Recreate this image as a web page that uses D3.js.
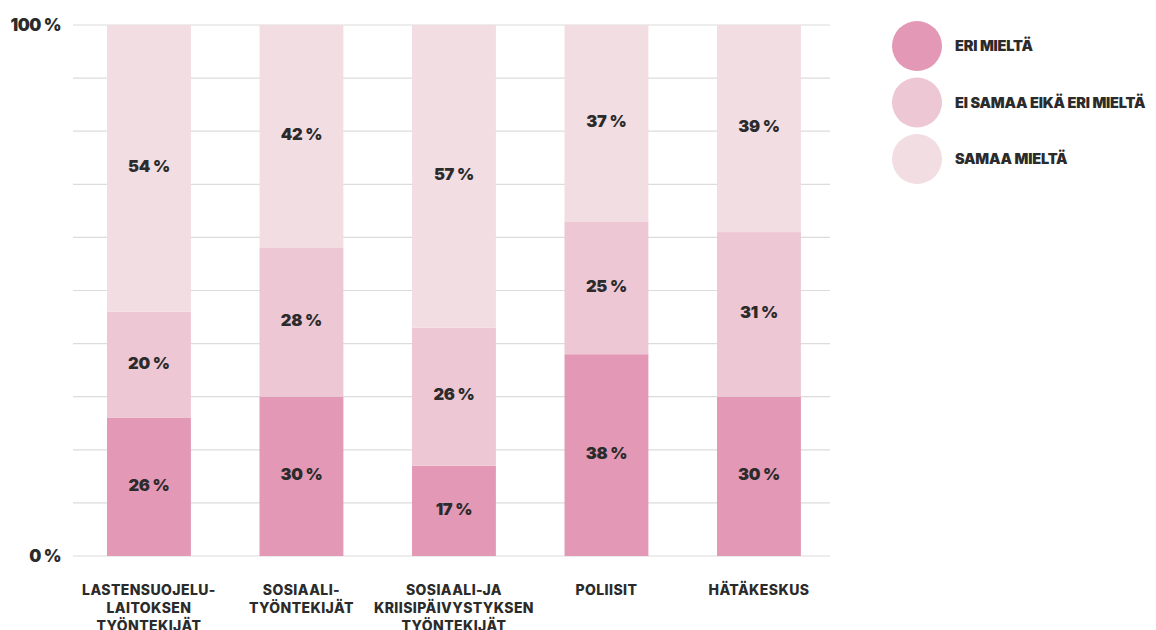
<!DOCTYPE html>
<html><head><meta charset="utf-8">
<script src="https://cdn.jsdelivr.net/npm/d3@7"></script>
<style>
body{margin:0;background:#fff;}
text{font-family:Inter,"Open Sans",sans-serif;fill:#2b2b2b;}
</style></head><body>
<svg id="c" width="1156" height="630"></svg>
<script>
const categories = [
  ["LASTENSUOJELU-","LAITOKSEN","TYÖNTEKIJÄT"],
  ["SOSIAALI-","TYÖNTEKIJÄT"],
  ["SOSIAALI-JA","KRIISIPÄIVYSTYKSEN","TYÖNTEKIJÄT"],
  ["POLIISIT"],
  ["HÄTÄKESKUS"]
];
const seriesNames = ["ERI MIELTÄ","EI SAMAA EIKÄ ERI MIELTÄ","SAMAA MIELTÄ"];
const eriMielta = [26,30,17,38,30];
const eiSamaaEikaEri = [20,28,26,25,31];
const samaaMielta = [54,42,57,37,39];
const yTicks = [0,10,20,30,40,50,60,70,80,90,100];
const yTickLabels = {0:"0 %",100:"100 %"};
const colors = ["#e398b5","#edc7d4","#f2dde3"];

const svg = d3.select("#c");
const ids = categories.map((c,i)=>i);
const x = d3.scaleBand().domain(ids).range([72.7,835.2]).paddingInner(0.45).paddingOuter(0.225);
const y = d3.scaleLinear().domain([0,100]).range([556,25]);

// gridlines
svg.append("g").selectAll("line").data(yTicks).join("line")
  .attr("x1",73).attr("x2",830).attr("y1",d=>y(d)).attr("y2",d=>y(d))
  .attr("stroke","#dcdcdc").attr("stroke-width",1.2);

// y labels
svg.append("g").selectAll("text").data(yTicks.filter(t=>yTickLabels[t])).join("text")
  .attr("x",61).attr("y",d=>y(d)).attr("dy","0.35em").attr("text-anchor","end")
  .attr("font-size",17).attr("font-weight",900).attr("letter-spacing","-0.5px").text(d=>yTickLabels[d]);

const data = ids.map(i=>({i, v:[eriMielta[i],eiSamaaEikaEri[i],samaaMielta[i]]}));
const stack = d3.stack().keys([0,1,2]).value((d,k)=>d.v[k]);
const series = stack(data);

const g = svg.append("g");
series.forEach((s,k)=>{
  g.selectAll(null).data(s).join("rect")
    .attr("x",d=>x(d.data.i)).attr("width",x.bandwidth())
    .attr("y",d=>y(d[1])).attr("height",d=>y(d[0])-y(d[1]))
    .attr("fill",colors[k]);
  g.selectAll(null).data(s).join("text")
    .attr("x",d=>x(d.data.i)+x.bandwidth()/2)
    .attr("y",d=>(y(d[0])+y(d[1]))/2 - 2).attr("dy","0.35em")
    .attr("text-anchor","middle").attr("font-size",16.5).attr("font-weight",900)
    .attr("letter-spacing","-0.3px")
    .text(d=>(d[1]-d[0])+" %");
});

// category labels
const cl = svg.append("g");
categories.forEach((lines,i)=>{
  const t = cl.append("text").attr("text-anchor","middle")
    .attr("font-size",14).attr("font-weight",800).attr("letter-spacing","0.4px");
  lines.forEach((ln,j)=>{
    t.append("tspan").attr("x",x(i)+x.bandwidth()/2).attr("y",595+j*18).text(ln);
  });
});

// legend
const lg = svg.append("g");
seriesNames.forEach((n,k)=>{
  lg.append("circle").attr("cx",917).attr("cy",46+k*56.5).attr("r",25).attr("fill",colors[k]);
  lg.append("text").attr("x",955).attr("y",46+k*56.5).attr("dy","0.35em")
    .attr("font-size",14.5).attr("font-weight",900).attr("letter-spacing","-0.2px").text(n);
});
</script>
</body></html>
